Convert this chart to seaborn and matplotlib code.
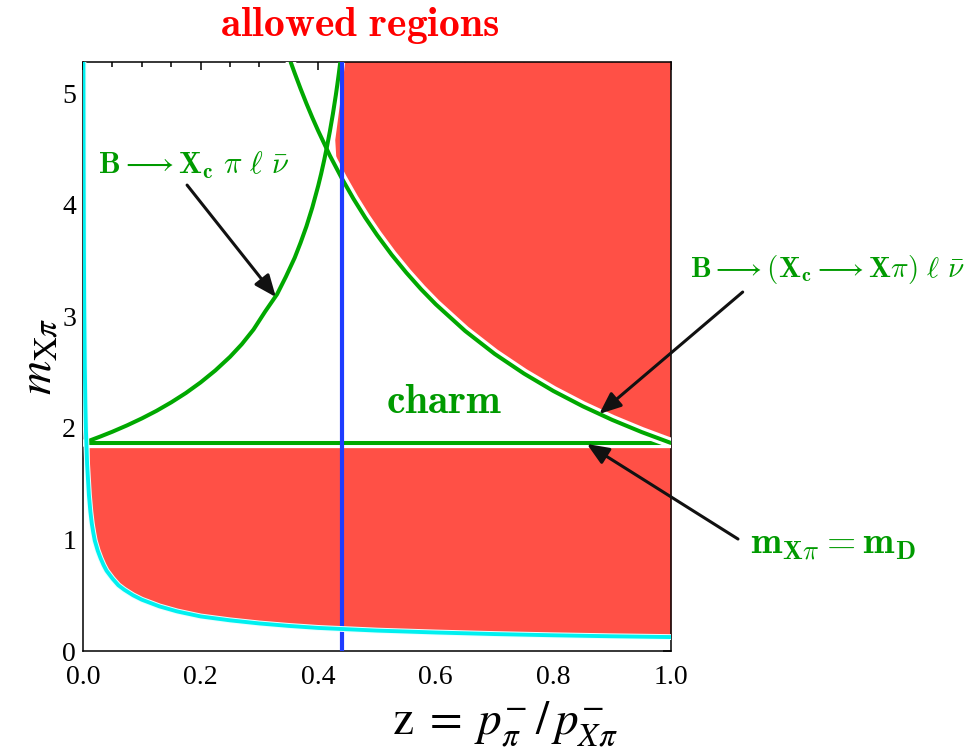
import numpy as np
import matplotlib
matplotlib.use("Agg")
import matplotlib.pyplot as plt
import matplotlib.patheffects as pe
from matplotlib.ticker import MultipleLocator
import seaborn as sns

# ---------------- data ----------------
m_D = 1.865          # horizontal line m_Xpi = m_D
m_top = 5.28         # upper y limit
z_blue = 0.44        # vertical blue line

# cyan lower kinematic boundary
cyan_z = np.array([0.0007, 0.001, 0.0015, 0.002, 0.003, 0.004, 0.005, 0.007, 0.01, 0.0125,
                   0.015, 0.0175, 0.02, 0.025, 0.03, 0.035, 0.04, 0.05, 0.06, 0.07,
                   0.085, 0.1, 0.13, 0.16, 0.2, 0.25, 0.3, 0.35, 0.4, 0.5, 0.6,
                   0.7, 0.8, 0.9, 1.0])
cyan_m = np.array([5.28, 4.41, 3.60, 3.12, 2.55, 2.21, 1.97, 1.67, 1.40, 1.25,
                   1.14, 1.06, 0.99, 0.90, 0.83, 0.77, 0.72, 0.65, 0.59, 0.55,
                   0.50, 0.46, 0.40, 0.355, 0.31, 0.275, 0.247, 0.225, 0.207, 0.183, 0.166,
                   0.152, 0.141, 0.132, 0.125])

# green rising curve  (B -> Xc pi l nu)
rise_z = np.array([0.008, 0.03, 0.05, 0.075, 0.1, 0.125, 0.15, 0.175, 0.2, 0.225, 0.25,
                   0.27, 0.29, 0.31, 0.33, 0.345, 0.36, 0.37, 0.38, 0.39, 0.40,
                   0.405, 0.41, 0.415, 0.42, 0.425, 0.43, 0.4325, 0.435, 0.4376])
rise_m = np.array([1.880, 1.924, 1.966, 2.023, 2.085, 2.153, 2.229, 2.313, 2.408, 2.515, 2.637,
                   2.750, 2.882, 3.045, 3.198, 3.355, 3.525, 3.660, 3.807, 3.976, 4.170,
                   4.278, 4.396, 4.523, 4.663, 4.815, 4.984, 5.076, 5.173, 5.280])

# green falling curve  (B -> (Xc -> X pi) l nu)
fall_z = np.array([0.3532, 0.36, 0.37, 0.38, 0.39, 0.40, 0.42, 0.44, 0.46, 0.48, 0.50,
                   0.525, 0.55, 0.575, 0.60, 0.65, 0.70, 0.75, 0.80, 0.85, 0.90, 0.95, 1.00])
fall_m = np.array([5.280, 5.181, 5.041, 4.908, 4.782, 4.663, 4.440, 4.239, 4.054, 3.885, 3.730,
                   3.552, 3.391, 3.243, 3.108, 2.869, 2.664, 2.487, 2.331, 2.194, 2.072, 1.963, 1.865])

# horizontal m_D line
hor_z = np.array([0.006, 1.0])
hor_m = np.array([m_D, m_D])

# upper red allowed region outline
red_up_z = np.array([0.446, 0.437, 0.429, 0.432, 0.44, 0.46, 0.48, 0.50, 0.525, 0.55, 0.575,
                     0.60, 0.65, 0.70, 0.75, 0.80, 0.85, 0.90, 0.95, 1.00, 1.00])
red_up_m = np.array([5.28, 4.90, 4.58, 4.317, 4.239, 4.054, 3.885, 3.730, 3.552, 3.391, 3.243,
                     3.108, 2.869, 2.664, 2.487, 2.331, 2.194, 2.072, 1.963, 1.865, 5.28])

# lower red region starts at z = 0.01
red_low_start = 0.01

# colours
GREEN = "#00a800"
TGREEN = "#009a00"
RED = "#ff5046"
BLUE = "#1e3cff"
CYAN = "#00f0f0"

# ---------------- figure ----------------
sns.set_style("white")
plt.rcParams["font.family"] = ["Liberation Serif", "DejaVu Serif"]
plt.rcParams["axes.linewidth"] = 1.1
plt.rcParams["text.color"] = "black"
plt.rcParams["xtick.color"] = "black"
plt.rcParams["ytick.color"] = "black"

fig = plt.figure(figsize=(9.71, 7.52), dpi=100)
ax = fig.add_axes([0.0855, 0.1343, 0.6055, 0.7832])

# red regions
ax.fill(red_up_z, red_up_m, color=RED, lw=0, zorder=1)
mask = cyan_z >= red_low_start
ax.fill_between(cyan_z[mask], cyan_m[mask], m_D, color=RED, lw=0, zorder=1)

outline = [pe.Stroke(linewidth=7.4, foreground="white"), pe.Normal()]

sns.lineplot(x=hor_z, y=hor_m, ax=ax, color=GREEN, lw=2.9, zorder=3,
             path_effects=outline)
sns.lineplot(x=fall_z, y=fall_m, ax=ax, color=GREEN, lw=2.9, zorder=3,
             path_effects=outline)
sns.lineplot(x=rise_z, y=rise_m, ax=ax, color=GREEN, lw=2.9, zorder=4)
ax.axvline(z_blue, color=BLUE, lw=3.0, zorder=5)
sns.lineplot(x=cyan_z, y=cyan_m, ax=ax, color=CYAN, lw=2.8, zorder=6,
             path_effects=[pe.Stroke(linewidth=4.2, foreground="#e8ffff"), pe.Normal()])

ax.set_xlim(0, 1)
ax.set_ylim(0, m_top)
ax.xaxis.set_major_locator(MultipleLocator(0.2))
ax.xaxis.set_minor_locator(MultipleLocator(0.05))
ax.yaxis.set_major_locator(MultipleLocator(1))
ax.yaxis.set_minor_locator(MultipleLocator(0.2))
ax.tick_params(which="both", direction="in", top=True, right=True,
               color="black", labelcolor="black", width=1.1, labelsize=20)
ax.tick_params(which="major", length=6, pad=5)
ax.tick_params(axis="x", which="major", pad=10)
ax.tick_params(which="minor", length=3.5)
ax.set_xticks(np.arange(0, 1.01, 0.2))
ax.set_xticklabels([f"{v:.1f}" for v in np.arange(0, 1.01, 0.2)])
for s in ax.spines.values():
    s.set_color("black")
ax.set_xlabel("")
ax.set_ylabel("")

# axis labels
fig.text(40 / 971, 1 - 356 / 752, r"$m_{\mathrm{X}\pi}$", rotation=90,
         ha="center", va="center", fontsize=34, math_fontfamily="stix")
fig.text(505 / 971, 1 - 724 / 752, r"$\mathrm{z}\;=\;p_{\pi}^{-}\,/\,p_{X\pi}^{-}$",
         ha="center", va="center", fontsize=34, math_fontfamily="stix")

# title
fig.text(360 / 971, 1 - 26 / 752, r"$\mathbf{allowed\ regions}$", color="#ff0000",
         ha="center", va="center", fontsize=30, math_fontfamily="cm")

# annotation labels
ax.text(0.0255, 4.357,
        r"$\mathbf{B}\longrightarrow\mathbf{X}_{\mathbf{c}}\ \pi\ \ell\ \bar{\nu}$",
        color=TGREEN, fontsize=22, ha="left", va="center", math_fontfamily="cm", clip_on=False)
ax.text(1.032, 3.416,
        r"$\mathbf{B}\longrightarrow(\mathbf{X}_{\mathbf{c}}\longrightarrow\mathbf{X}\pi)\ \ell\ \bar{\nu}$",
        color=TGREEN, fontsize=21, ha="left", va="center", math_fontfamily="cm", clip_on=False)
ax.text(0.614, 2.223, r"$\mathbf{charm}$", color=TGREEN, fontsize=30,
        ha="center", va="center", math_fontfamily="cm")
ax.text(1.134, 0.95, r"$\mathbf{m}_{\mathbf{X}\pi}=\mathbf{m}_{\mathbf{D}}$",
        color=TGREEN, fontsize=27, ha="left", va="center", math_fontfamily="cm", clip_on=False)

arrow_kw = dict(arrowstyle="-|>,head_length=0.6,head_width=0.25", color="#111111",
                lw=2.2, shrinkA=0, shrinkB=0, mutation_scale=22)
for start, tip in [((0.177, 4.177), (0.328, 3.173)),
                   ((1.122, 3.218), (0.878, 2.125)),
                   ((1.114, 1.004), (0.857, 1.856))]:
    ax.annotate("", xy=tip, xytext=start, arrowprops=arrow_kw,
                annotation_clip=False, zorder=7)

fig.savefig("out.png", dpi=100)
